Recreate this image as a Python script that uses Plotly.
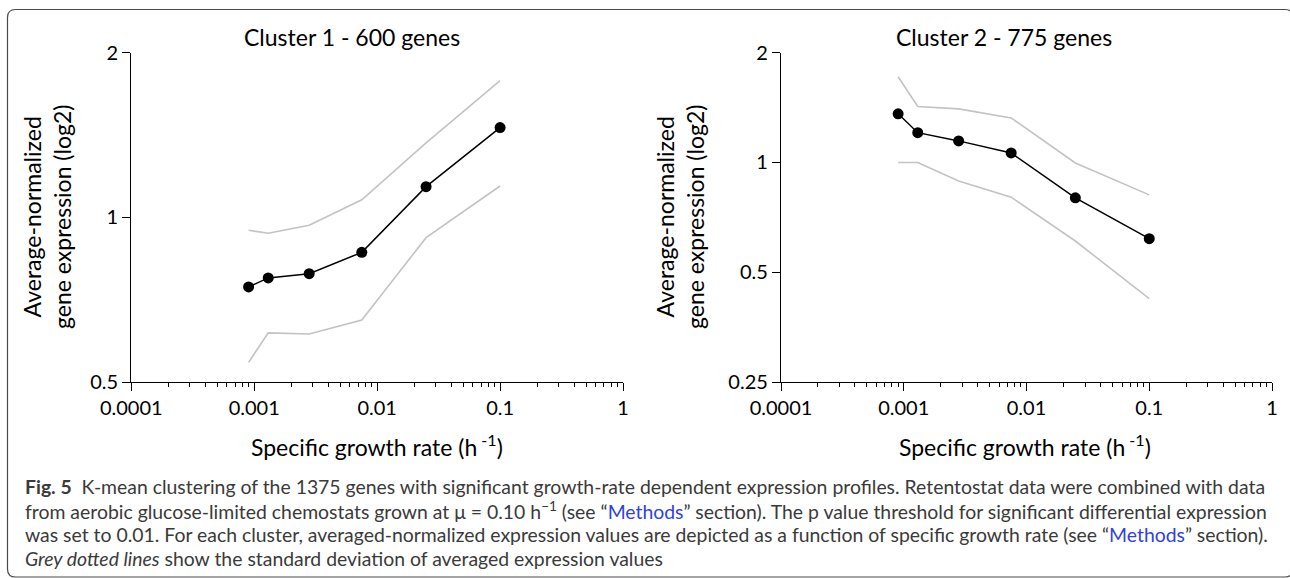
import math
import plotly.graph_objects as go

W, H = 1290, 578

# ---- data ----
growth_rate = [0.0009, 0.0013, 0.0028, 0.0075, 0.025, 0.1]

c1_mean = [0.746, 0.775, 0.789, 0.863, 1.138, 1.459]
c1_upper = [0.947, 0.935, 0.967, 1.077, 1.368, 1.778]
c1_lower = [0.543, 0.615, 0.612, 0.649, 0.918, 1.141]

c2_mean = [1.36, 1.207, 1.146, 1.062, 0.80, 0.618]
c2_upper = [1.718, 1.424, 1.403, 1.325, 0.997, 0.815]
c2_lower = [1.0, 1.0, 0.889, 0.803, 0.609, 0.423]

titles = ["Cluster 1 - 600 genes", "Cluster 2 - 775 genes"]
x_tickvals = [0.0001, 0.001, 0.01, 0.1, 1]
x_ticktext = ["0.0001", "0.001", "0.01", "0.1", "1"]
y1_tickvals = [0.5, 1, 2]
y1_ticktext = ["0.5", "1", "2"]
y2_tickvals = [0.25, 0.5, 1, 2]
y2_ticktext = ["0.25", "0.5", "1", "2"]

x_minor = [m * d for d in [0.0001, 0.001, 0.01, 0.1] for m in range(2, 10)]


def fx(px):
    return px / W


def fy(py):
    return 1 - py / H


FONT = "Lato"
GREY = "#c3c3c3"

fig = go.Figure()

panels = [
    dict(mean=c1_mean, up=c1_upper, lo=c1_lower, xa="x", ya="y"),
    dict(mean=c2_mean, up=c2_upper, lo=c2_lower, xa="x2", ya="y2"),
]
for p in panels:
    for band in (p["up"], p["lo"]):
        fig.add_trace(go.Scatter(x=growth_rate, y=band, mode="lines",
                                 line=dict(color=GREY, width=1.6),
                                 xaxis=p["xa"], yaxis=p["ya"], showlegend=False,
                                 hoverinfo="skip"))
    fig.add_trace(go.Scatter(x=growth_rate, y=p["mean"], mode="lines+markers",
                             line=dict(color="black", width=1.5),
                             marker=dict(color="black", size=11),
                             xaxis=p["xa"], yaxis=p["ya"], showlegend=False))

plot_top, plot_bot = 52.7, 382.0
left_x = (131.3, 623.0)
right_x = (781.0, 1272.0)

xcommon = dict(type="log", range=[-4, 0], tickmode="array", tickvals=x_tickvals,
               ticktext=x_ticktext, ticks="outside", ticklen=8, tickwidth=1.3,
               tickcolor="black", showline=True, linecolor="black", linewidth=1.3,
               showgrid=False, zeroline=False, automargin=False,
               tickfont=dict(family=FONT, size=20, color="black"),
               minor=dict(tickmode="array", tickvals=x_minor, ticks="outside",
                          ticklen=4, tickwidth=1.2, tickcolor="black", showgrid=False))
ycommon = dict(type="log", tickmode="array", ticks="outside", ticklen=8, tickwidth=1.3,
               tickcolor="black", showline=True, linecolor="black", linewidth=1.3,
               showgrid=False, zeroline=False, automargin=False,
               tickfont=dict(family=FONT, size=20, color="black"))

fig.update_layout(
    width=W, height=H, margin=dict(l=0, r=0, t=0, b=0, autoexpand=False),
    paper_bgcolor="white", plot_bgcolor="white",
    xaxis=dict(domain=[fx(left_x[0]), fx(left_x[1])], anchor="y", **xcommon),
    yaxis=dict(domain=[fy(plot_bot), fy(plot_top)], anchor="x",
               range=[math.log10(0.5), math.log10(2)],
               tickvals=y1_tickvals, ticktext=y1_ticktext, **ycommon),
    xaxis2=dict(domain=[fx(right_x[0]), fx(right_x[1])], anchor="y2", **xcommon),
    yaxis2=dict(domain=[fy(plot_bot), fy(plot_top)], anchor="x2",
                range=[math.log10(0.25), math.log10(2)],
                tickvals=y2_tickvals, ticktext=y2_ticktext, **ycommon),
)

ann = []
# panel titles
for t, cx in zip(titles, [352, 1004]):
    ann.append(dict(text=t, x=fx(cx), y=fy(37), xref="paper", yref="paper",
                    xanchor="center", yanchor="middle", showarrow=False,
                    font=dict(family=FONT, size=23, color="black")))
# x axis titles
for cx in [377, 1025]:
    ann.append(dict(text="Specific growth rate (h<sup> -1</sup>)", x=fx(cx), y=fy(445),
                    xref="paper", yref="paper", xanchor="center", yanchor="middle",
                    showarrow=False, font=dict(family=FONT, size=23, color="black")))
# y axis titles
for cx in [47, 680]:
    ann.append(dict(text="Average-normalized<br>gene expression (log2)", x=fx(cx), y=fy(217),
                    xref="paper", yref="paper", xanchor="center", yanchor="middle",
                    textangle=-90, showarrow=False,
                    font=dict(family=FONT, size=23, color="black")))

# caption
cap_color = "#3a3a3a"
blue = "#2f3fe4"
caption_lines = [
    "<b>Fig. 5</b>  K-mean clustering of the 1375 genes with significant growth-rate dependent expression profiles. Retentostat data were combined with data",
    "from aerobic glucose-limited chemostats grown at μ = 0.10 h<sup>−1</sup> (see “<span style='color:%s'>Methods</span>” section). The p value threshold for significant differential expression" % blue,
    "was set to 0.01. For each cluster, averaged-normalized expression values are depicted as a function of specific growth rate (see “<span style='color:%s'>Methods</span>” section)." % blue,
    "<i>Grey dotted lines</i> show the standard deviation of averaged expression values",
]
cap_y = [486, 510, 534, 558]
for line, yy in zip(caption_lines, cap_y):
    ann.append(dict(text=line, x=fx(23), y=fy(yy), xref="paper", yref="paper",
                    xanchor="left", yanchor="middle", showarrow=False,
                    font=dict(family=FONT, size=19.4, color=cap_color)))

fig.update_layout(annotations=ann)

# rounded frame
x0, y0, x1, y1, r = 7.5, 9.5, 1293, 577, 8
path = (f"M {fx(x0)},{fy(y0 + r)} Q {fx(x0)},{fy(y0)} {fx(x0 + r)},{fy(y0)} "
        f"L {fx(x1 - r)},{fy(y0)} Q {fx(x1)},{fy(y0)} {fx(x1)},{fy(y0 + r)} "
        f"L {fx(x1)},{fy(y1 - r)} Q {fx(x1)},{fy(y1)} {fx(x1 - r)},{fy(y1)} "
        f"L {fx(x0 + r)},{fy(y1)} Q {fx(x0)},{fy(y1)} {fx(x0)},{fy(y1 - r)} Z")
fig.add_shape(type="path", path=path, xref="paper", yref="paper",
              line=dict(color="#4a4a4a", width=1.2), layer="below")

fig.write_html("out.html")
